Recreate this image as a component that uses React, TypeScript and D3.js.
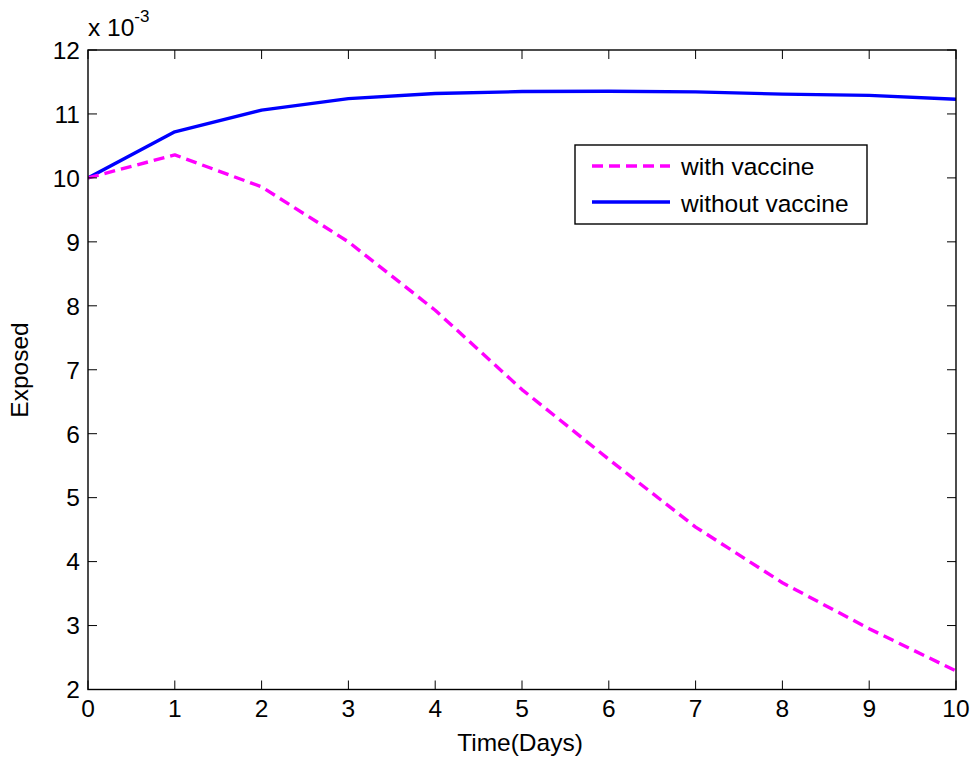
import React from "react";
import * as d3 from "d3";

// Days simulated
const days = [0, 1, 2, 3, 4, 5, 6, 7, 8, 9, 10];
// Exposed fraction (x 10^-3)
const withVaccine = [10.0, 10.36, 9.86, 9.0, 7.93, 6.69, 5.6, 4.54, 3.67, 2.95, 2.29];
const withoutVaccine = [10.0, 10.72, 11.06, 11.24, 11.32, 11.35, 11.355, 11.345, 11.31, 11.29, 11.23];

const xTicks = [0, 1, 2, 3, 4, 5, 6, 7, 8, 9, 10];
const yTicks = [2, 3, 4, 5, 6, 7, 8, 9, 10, 11, 12];

const legendItems = [
  { label: "with vaccine", color: "#ff00ff", dash: "11,6", values: withVaccine },
  { label: "without vaccine", color: "#0000ff", dash: null, values: withoutVaccine },
];

const W = 975;
const H = 760;
const left = 88;
const right = 956;
const top = 50;
const bottom = 689.5;
const font = "'Liberation Sans', Arial, sans-serif";
const fs = 24.5;

export default function App() {
  const x = d3.scaleLinear().domain([0, 10]).range([left, right]);
  const y = d3.scaleLinear().domain([2, 12]).range([bottom, top]);
  const line = (vals: number[]) =>
    d3.line<number>().x((_, i) => x(days[i])).y((d) => y(d))(vals) || "";
  const tl = 9;

  return (
    <svg
      width={W}
      height={H}
      style={{ position: "absolute", left: 0, top: 0, background: "#fff" }}
      fontFamily={font}
    >
      <rect x={0} y={0} width={W} height={H} fill="#fff" />
      <defs>
        <clipPath id="plotClip">
          <rect x={left} y={top - 2} width={right - left} height={bottom - top + 4} />
        </clipPath>
      </defs>
      {/* series */}
      <g clipPath="url(#plotClip)">
        {[...legendItems].reverse().map((s) => (
          <path
            key={s.label}
            d={line(s.values)}
            fill="none"
            stroke={s.color}
            strokeWidth={3.4}
            strokeDasharray={s.dash ?? undefined}
            strokeLinejoin="round"
          />
        ))}
      </g>
      {/* axes box */}
      <rect x={left} y={top} width={right - left} height={bottom - top} fill="none" stroke="#000" strokeWidth={1.4} />
      {xTicks.map((t) => (
        <g key={"x" + t}>
          <line x1={x(t)} x2={x(t)} y1={bottom} y2={bottom - tl} stroke="#000" strokeWidth={1} />
          <line x1={x(t)} x2={x(t)} y1={top} y2={top + tl} stroke="#000" strokeWidth={1} />
          <text x={x(t)} y={717} textAnchor="middle" fontSize={fs} fill="#000">
            {t}
          </text>
        </g>
      ))}
      {yTicks.map((t) => (
        <g key={"y" + t}>
          <line x1={left} x2={left + tl} y1={y(t)} y2={y(t)} stroke="#000" strokeWidth={1} />
          <line x1={right} x2={right - tl} y1={y(t)} y2={y(t)} stroke="#000" strokeWidth={1} />
          <text x={80} y={y(t)} dy="0.36em" textAnchor="end" fontSize={fs} fill="#000">
            {t}
          </text>
        </g>
      ))}
      {/* exponent */}
      <text x={88} y={36} fontSize={fs} fill="#000">
        x 10
        <tspan dy={-14} fontSize={17}>-3</tspan>
      </text>
      {/* axis labels */}
      <text x={520} y={751} textAnchor="middle" fontSize={fs} fill="#000">
        Time(Days)
      </text>
      <text
        transform={`translate(28,370) rotate(-90)`}
        textAnchor="middle"
        fontSize={fs}
        fill="#000"
      >
        Exposed
      </text>
      {/* legend */}
      <rect x={575} y={145} width={292} height={79} fill="#fff" stroke="#000" strokeWidth={1.4} />
      {legendItems.map((s, i) => (
        <g key={"lg" + s.label}>
          <line
            x1={592}
            x2={670}
            y1={166 + i * 36}
            y2={166 + i * 36}
            stroke={s.color}
            strokeWidth={3.4}
            strokeDasharray={s.dash ?? undefined}
          />
          <text x={681} y={175 + i * 36.5} fontSize={fs} fill="#000">
            {s.label}
          </text>
        </g>
      ))}
    </svg>
  );
}
